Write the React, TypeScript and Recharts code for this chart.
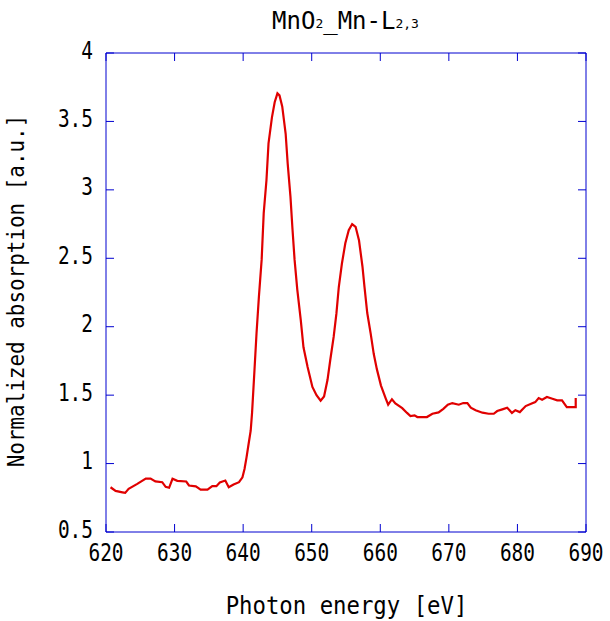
import React from 'react';
import { LineChart, Line, XAxis, YAxis } from 'recharts';

const energies = [
  620.66, 621.4, 622.4, 622.8, 623.3, 624.5, 625.8, 626.5, 627.2, 628.2,
  628.7, 629.2, 629.7, 630.4, 631.7, 632.1, 633.1, 633.8, 634.8, 635.5,
  636.1, 636.6, 637.4, 637.9, 638.6, 639.4, 639.9, 640.2, 640.5, 640.8,
  641.1, 641.3, 641.65, 641.95, 642.3, 642.7, 643.0, 643.4, 643.7, 644.2,
  644.6, 645.0, 645.3, 645.7, 646.2, 646.5, 646.9, 647.2, 647.5, 647.9,
  648.4, 648.8, 649.4, 650.1, 650.7, 651.3, 651.8, 652.3, 652.7, 653.2,
  653.6, 653.95, 654.4, 654.9, 655.4, 655.9, 656.4, 656.9, 657.4, 657.7,
  658.1, 658.6, 659.05, 659.5, 660.1, 660.8, 661.15, 661.7, 662.2, 663.2,
  663.9, 664.4, 665.0, 665.4, 666.8, 667.6, 668.5, 669.2, 669.85, 670.5,
  671.45, 672.1, 672.7, 673.2, 673.9, 674.9, 675.8, 676.55, 677.05, 677.8,
  678.5, 678.85, 679.2, 679.7, 680.35, 681.2, 682.0, 682.6, 683.1, 683.6,
  684.3, 685.1, 685.8, 686.5, 687.2, 688.5, 688.5,
];

const absorption = [
  0.827, 0.8, 0.79, 0.786, 0.816, 0.85, 0.89, 0.89, 0.87, 0.864,
  0.83, 0.823, 0.889, 0.874, 0.869, 0.84, 0.833, 0.81, 0.81, 0.835,
  0.835, 0.862, 0.876, 0.827, 0.847, 0.864, 0.9, 0.96, 1.047, 1.145,
  1.24, 1.37, 1.68, 1.95, 2.22, 2.49, 2.83, 3.07, 3.34, 3.53,
  3.64, 3.705, 3.69, 3.61, 3.41, 3.19, 2.95, 2.71, 2.49, 2.27,
  2.05, 1.85, 1.705, 1.56, 1.5, 1.46, 1.49, 1.61, 1.755, 1.925,
  2.095, 2.29, 2.46, 2.61, 2.705, 2.75, 2.73, 2.63, 2.44, 2.29,
  2.1, 1.95, 1.8, 1.69, 1.57, 1.475, 1.43, 1.47, 1.44, 1.405,
  1.37, 1.347, 1.352, 1.34, 1.34, 1.364, 1.374, 1.4, 1.43, 1.442,
  1.43, 1.442, 1.442, 1.408, 1.39, 1.372, 1.364, 1.364, 1.384, 1.396,
  1.408, 1.39, 1.37, 1.39, 1.376, 1.42, 1.437, 1.449, 1.479, 1.467,
  1.486, 1.474, 1.462, 1.462, 1.413, 1.413, 1.48,
];

const xTicks = [620, 630, 640, 650, 660, 670, 680, 690];
const yTicks = [0.5, 1, 1.5, 2, 2.5, 3, 3.5, 4];

const titleMain1 = 'MnO';
const titleSub1 = '2';
const titleMain2 = '_Mn-L';
const titleSub2 = '2,3';
const xLabel = 'Photon energy [eV]';
const yLabel = 'Normalized absorption [a.u.]';

const data = energies.map((e, i) => ({ e, a: absorption[i] }));

const FONT = '"DejaVu Sans Mono", "Liberation Mono", monospace';
const BLUE = '#0000d0';
const RED = '#e00000';
const TICK = 8;

const BottomTick = (props: any) => {
  const { x, y, payload } = props;
  return (
    <g>
      <line x1={x} x2={x} y1={y} y2={y - TICK} stroke={BLUE} strokeWidth={1} />
      <text
        transform={`translate(${x},${y + 29}) scale(0.81,1)`}
        textAnchor="middle"
        fontFamily={FONT}
        fontSize={24}
        fill="#000"
      >
        {payload.value}
      </text>
    </g>
  );
};

const TopTick = (props: any) => {
  const { x, y } = props;
  return <line x1={x} x2={x} y1={y} y2={y + TICK} stroke={BLUE} strokeWidth={1} />;
};

const LeftTick = (props: any) => {
  const { x, y, payload } = props;
  return (
    <g>
      <line x1={x} x2={x + TICK} y1={y} y2={y} stroke={BLUE} strokeWidth={1} />
      <text
        transform={`translate(${x - 13},${y + 5.5}) scale(0.81,1)`}
        textAnchor="end"
        fontFamily={FONT}
        fontSize={24}
        fill="#000"
      >
        {payload.value}
      </text>
    </g>
  );
};

const RightTick = (props: any) => {
  const { x, y } = props;
  return <line x1={x} x2={x - TICK} y1={y} y2={y} stroke={BLUE} strokeWidth={1} />;
};

export default function App() {
  return (
    <div style={{ position: 'absolute', left: 0, top: 0, width: 610, height: 621 }}>
      <LineChart
        width={610}
        height={621}
        data={data}
        margin={{ top: 52, right: 23, bottom: 59, left: 66 }}
      >
        <XAxis
          dataKey="e"
          type="number"
          domain={[620, 690]}
          ticks={xTicks}
          allowDataOverflow
          height={30}
          tickSize={0}
          tickMargin={0}
          tickLine={false}
          tick={<BottomTick />}
          axisLine={{ stroke: BLUE }}
          interval={0}
        />
        <XAxis
          xAxisId="top"
          orientation="top"
          dataKey="e"
          type="number"
          domain={[620, 690]}
          ticks={xTicks}
          allowDataOverflow
          height={1}
          tickSize={0}
          tickMargin={0}
          tickLine={false}
          tick={<TopTick />}
          axisLine={{ stroke: BLUE }}
          interval={0}
        />
        <YAxis
          type="number"
          domain={[0.5, 4]}
          ticks={yTicks}
          allowDataOverflow
          width={40}
          tickSize={0}
          tickMargin={0}
          tickLine={false}
          tick={<LeftTick />}
          axisLine={{ stroke: BLUE }}
          interval={0}
        />
        <YAxis
          yAxisId="right"
          orientation="right"
          type="number"
          domain={[0.5, 4]}
          ticks={yTicks}
          allowDataOverflow
          width={1}
          tickSize={0}
          tickMargin={0}
          tickLine={false}
          tick={<RightTick />}
          axisLine={{ stroke: BLUE }}
          interval={0}
        />
        <Line
          type="linear"
          dataKey="a"
          stroke={RED}
          strokeWidth={2.2}
          dot={false}
          activeDot={false}
          isAnimationActive={false}
        />
      </LineChart>
      <svg
        width={610}
        height={621}
        style={{ position: 'absolute', left: 0, top: 0, pointerEvents: 'none' }}
      >
        <text
          x={345.5}
          y={29.3}
          textAnchor="middle"
          fontFamily={FONT}
          fontSize={24}
          fill="#000"
        >
          {titleMain1}
          <tspan fontSize={13} dy={-1.6}>{titleSub1}</tspan>
          <tspan fontSize={24} dy={1.6}>{titleMain2}</tspan>
          <tspan fontSize={13} dy={-1.6}>{titleSub2}</tspan>
        </text>
        <text
          transform="translate(346.5,614) scale(0.93,1)"
          textAnchor="middle"
          fontFamily={FONT}
          fontSize={24}
          fill="#000"
        >
          {xLabel}
        </text>
        <text
          transform="translate(24,291) rotate(-90) scale(0.91,1)"
          textAnchor="middle"
          fontFamily={FONT}
          fontSize={23}
          fill="#000"
        >
          {yLabel}
        </text>
      </svg>
    </div>
  );
}
